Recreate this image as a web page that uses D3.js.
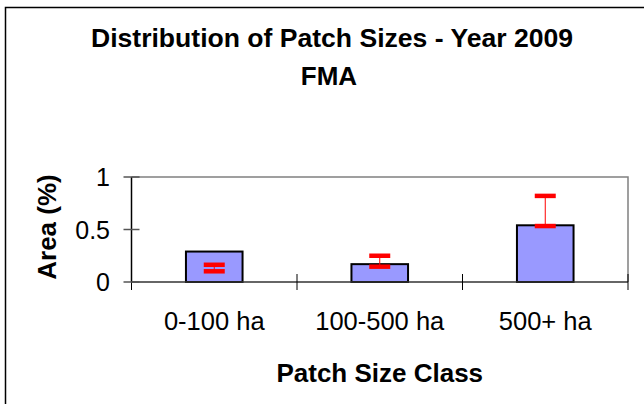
<!DOCTYPE html>
<html>
<head>
<meta charset="utf-8">
<script src="https://cdn.jsdelivr.net/npm/d3@7"></script>
<style>
  body { margin: 0; background: #fff; }
  text { font-family: "Liberation Sans", Arial, sans-serif; fill: #000; }
</style>
</head>
<body>
<div class="chart"></div>
<script>
// data
var categories = ["0-100 ha", "100-500 ha", "500+ ha"];
var areaValues = [0.29, 0.17, 0.54];
var errLow = [0.102, 0.146, 0.533];
var errHigh = [0.164, 0.25, 0.82];
var yTicks = [0, 0.5, 1];

var svgW = 644, svgH = 404;
var margin = { top: 177, right: 16, bottom: 122, left: 131.5 };
var width = svgW - margin.left - margin.right;
var height = svgH - margin.top - margin.bottom;

var svg = d3.select(".chart").append("svg")
    .attr("width", svgW)
    .attr("height", svgH);

// outer frame (right and bottom edges run off the picture)
svg.append("rect")
    .attr("x", 5.5).attr("y", 7.5)
    .attr("width", 700).attr("height", 500)
    .attr("fill", "none")
    .attr("stroke", "#000")
    .attr("stroke-width", 1.5);

var xScale = d3.scaleBand().domain(categories).range([0, width]).padding(0);
var barScale = d3.scaleBand().domain(categories).range([0, width])
    .paddingInner(0.658).paddingOuter(0.329);
var yScale = d3.scaleLinear().domain([0, 1]).range([height, 0]);

var g = svg.append("g")
    .attr("transform", "translate(" + margin.left + "," + margin.top + ")");

// top + right border of plot area
g.append("path")
    .attr("d", "M0," + yScale(1) + "H" + width + "V" + yScale(0))
    .attr("fill", "none")
    .attr("stroke", "#808080")
    .attr("stroke-width", 1.5);

// bars
g.selectAll(".bar")
    .data(areaValues)
    .enter().append("rect")
    .attr("class", "bar")
    .attr("x", function(d, i) { return barScale(categories[i]); })
    .attr("width", barScale.bandwidth())
    .attr("y", function(d) { return yScale(d); })
    .attr("height", function(d) { return yScale(0) - yScale(d); })
    .attr("fill", "#9999ff")
    .attr("stroke", "#000")
    .attr("stroke-width", 2);

// x axis line with crossing ticks at category boundaries
g.append("line")
    .attr("x1", 0).attr("x2", width)
    .attr("y1", yScale(0)).attr("y2", yScale(0))
    .attr("stroke", "#333").attr("stroke-width", 1.5);

var bounds = categories.map(function(c) { return xScale(c); }).concat([width]);
g.selectAll(".xtick")
    .data(bounds)
    .enter().append("line")
    .attr("class", "xtick")
    .attr("x1", function(d) { return d; }).attr("x2", function(d) { return d; })
    .attr("y1", yScale(0) - 8).attr("y2", yScale(0) + 8)
    .attr("stroke", "#000").attr("stroke-width", 1);

// y axis
g.append("line")
    .attr("x1", 0).attr("x2", 0)
    .attr("y1", yScale(1)).attr("y2", yScale(0))
    .attr("stroke", "#000").attr("stroke-width", 1.5);

g.selectAll(".ytick")
    .data(yTicks)
    .enter().append("line")
    .attr("class", "ytick")
    .attr("x1", -8).attr("x2", 8)
    .attr("y1", function(d) { return yScale(d); })
    .attr("y2", function(d) { return yScale(d); })
    .attr("stroke", "#555").attr("stroke-width", 1.5);

g.selectAll(".ylabel")
    .data(yTicks)
    .enter().append("text")
    .attr("class", "ylabel")
    .attr("x", -21.5)
    .attr("y", function(d) { return yScale(d) + 9; })
    .attr("text-anchor", "end")
    .style("font-size", "25px")
    .text(function(d) { return d; });

g.selectAll(".xlabel")
    .data(categories)
    .enter().append("text")
    .attr("class", "xlabel")
    .attr("x", function(d) { return xScale(d) + xScale.bandwidth() / 2; })
    .attr("y", yScale(0) + 47.5)
    .attr("text-anchor", "middle")
    .style("font-size", "25.5px")
    .text(function(d) { return d; });

// error bars
var errs = g.selectAll(".err")
    .data(areaValues)
    .enter().append("g")
    .attr("class", "err")
    .attr("transform", function(d, i) {
        return "translate(" + (xScale(categories[i]) + xScale.bandwidth() / 2) + ",0)";
    });

errs.append("line")
    .attr("x1", 0).attr("x2", 0)
    .attr("y1", function(d, i) { return yScale(errLow[i]); })
    .attr("y2", function(d, i) { return yScale(errHigh[i]); })
    .attr("stroke", "#ff0000").attr("stroke-width", 1);

errs.append("line")
    .attr("x1", -10.5).attr("x2", 10.5)
    .attr("y1", function(d, i) { return yScale(errHigh[i]); })
    .attr("y2", function(d, i) { return yScale(errHigh[i]); })
    .attr("stroke", "#ff0000").attr("stroke-width", 4.5);

errs.append("line")
    .attr("x1", -10.5).attr("x2", 10.5)
    .attr("y1", function(d, i) { return yScale(errLow[i]); })
    .attr("y2", function(d, i) { return yScale(errLow[i]); })
    .attr("stroke", "#ff0000").attr("stroke-width", 4.5);

// titles
svg.append("text")
    .attr("x", 332).attr("y", 47)
    .attr("text-anchor", "middle")
    .style("font-size", "26px").style("font-weight", "bold")
    .attr("textLength", 482).attr("lengthAdjust", "spacingAndGlyphs")
    .text("Distribution of Patch Sizes - Year 2009");

svg.append("text")
    .attr("x", 329).attr("y", 85)
    .attr("text-anchor", "middle")
    .style("font-size", "26px").style("font-weight", "bold")
    .text("FMA");

svg.append("text")
    .attr("x", margin.left + width / 2).attr("y", 382)
    .attr("text-anchor", "middle")
    .style("font-size", "26px").style("font-weight", "bold")
    .text("Patch Size Class");

svg.append("text")
    .attr("transform", "translate(56,227) rotate(-90)")
    .attr("text-anchor", "middle")
    .style("font-size", "26px").style("font-weight", "bold")
    .text("Area (%)");
</script>
</body>
</html>
